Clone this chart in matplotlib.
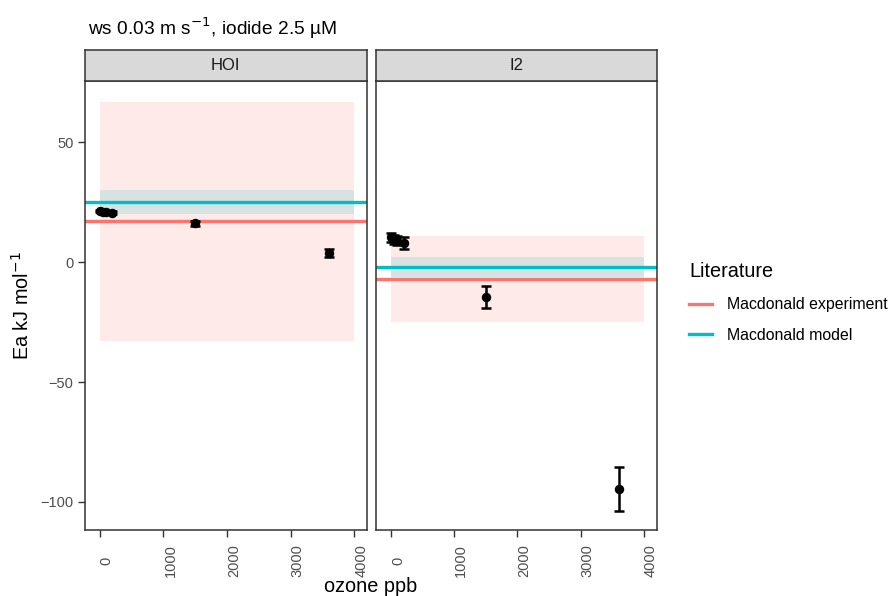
import matplotlib
matplotlib.use("Agg")
import matplotlib.pyplot as plt
from matplotlib.lines import Line2D

plt.rcParams['font.family'] = ['Liberation Sans', 'DejaVu Sans']

# measured activation energies per product, against ozone mixing ratio
ozone = [0, 50, 100, 200, 1500, 3600]
hoi_ea = [21.3, 21.1, 21.0, 20.7, 16.2, 3.8]
hoi_err = [0.5, 0.5, 0.5, 0.5, 1.0, 1.6]
i2_ea = [10.4, 9.5, 9.0, 8.0, -14.7, -94.5]
i2_err = [2.0, 2.0, 2.0, 2.5, 4.6, 9.2]

# literature values (centre, half-width) for each panel
panels = ['HOI', 'I2']
lit_labels = ['Macdonald experiment', 'Macdonald model']
lit_colors = ['#F8766D', '#00BFC4']
hoi_lit = [(17, 50), (25, 5)]
i2_lit = [(-7, 18), (-2, 4)]
band_x = [0, 4000]

xticks = [0, 1000, 2000, 3000, 4000]
yticks = [-100, -50, 0, 50]

W, H = 890, 596
fig = plt.figure(figsize=(W / 100, H / 100), dpi=100)


def box(l, r, t, b):
    return [l / W, (H - b) / H, (r - l) / W, (b - t) / H]


edge = '#333333'
tick_col = '#4D4D4D'
lefts = [(84.5, 367.0), (375.7, 656.7)]
data = [(hoi_ea, hoi_err, hoi_lit), (i2_ea, i2_err, i2_lit)]

for i, ((l, r), name, (ea, err, lit)) in enumerate(zip(lefts, panels, data)):
    ax = fig.add_axes(box(l, r, 81, 530))
    for (c, hw), col in zip(lit, lit_colors):
        ax.fill_between(band_x, c - hw, c + hw, color=col, alpha=0.15, lw=0)
    for (c, hw), col in zip(lit, lit_colors):
        ax.axhline(c, color=col, lw=2.4)
    ax.errorbar(ozone, ea, yerr=err, fmt='o', color='black', ms=5.8,
                elinewidth=1.8, capsize=3.6, capthick=1.8)
    ax.set_xlim(-240, 4200)
    ax.set_ylim(-111.7, 75.6)
    ax.set_xticks(xticks)
    ax.set_xticklabels([str(t) for t in xticks], rotation=90,
                       ha='left', va='center', color=tick_col, fontsize=10.5)
    ax.set_yticks(yticks)
    ax.set_yticklabels(['\u2212' + str(-t) if t < 0 else str(t) for t in yticks],
                       color=tick_col, fontsize=10.5)
    ax.tick_params(axis='x', length=5, width=1, color=edge, pad=17)
    ax.tick_params(axis='y', length=5, width=1, color=edge, pad=3)
    if i > 0:
        ax.tick_params(axis='y', left=False, labelleft=False)
    for s in ax.spines.values():
        s.set_color(edge)
        s.set_linewidth(1.1)

    strip = fig.add_axes(box(l, r, 50, 81))
    strip.set_xticks([])
    strip.set_yticks([])
    strip.set_facecolor('#D9D9D9')
    for s in strip.spines.values():
        s.set_color(edge)
        s.set_linewidth(1.1)
    strip.text(0.5, 0.5, name, ha='center', va='center', fontsize=12,
               color='#1A1A1A', transform=strip.transAxes)

fig.text(88 / W, 1 - 28 / H, 'ws 0.03 m s$^{-1}$, iodide 2.5 \u00b5M',
         fontsize=13.8, ha='left', va='center')
fig.text(370.6 / W, 1 - 586 / H, 'ozone ppb', fontsize=14.3,
         ha='center', va='center')
fig.text(22 / W, 1 - 305.5 / H, 'Ea kJ mol$^{-1}$', fontsize=14.3,
         ha='center', va='center', rotation=90)

handles = [Line2D([], [], color=c, lw=2.4) for c in lit_colors]
leg = fig.legend(handles, lit_labels, title='Literature', loc='upper left',
                 bbox_to_anchor=(675 / W, 1 - 248 / H), frameon=False,
                 fontsize=11.4, title_fontsize=14.3, handlelength=1.45,
                 labelspacing=1.0, handletextpad=0.95)
leg._legend_box.align = 'left'

fig.savefig('out.png', dpi=100)
